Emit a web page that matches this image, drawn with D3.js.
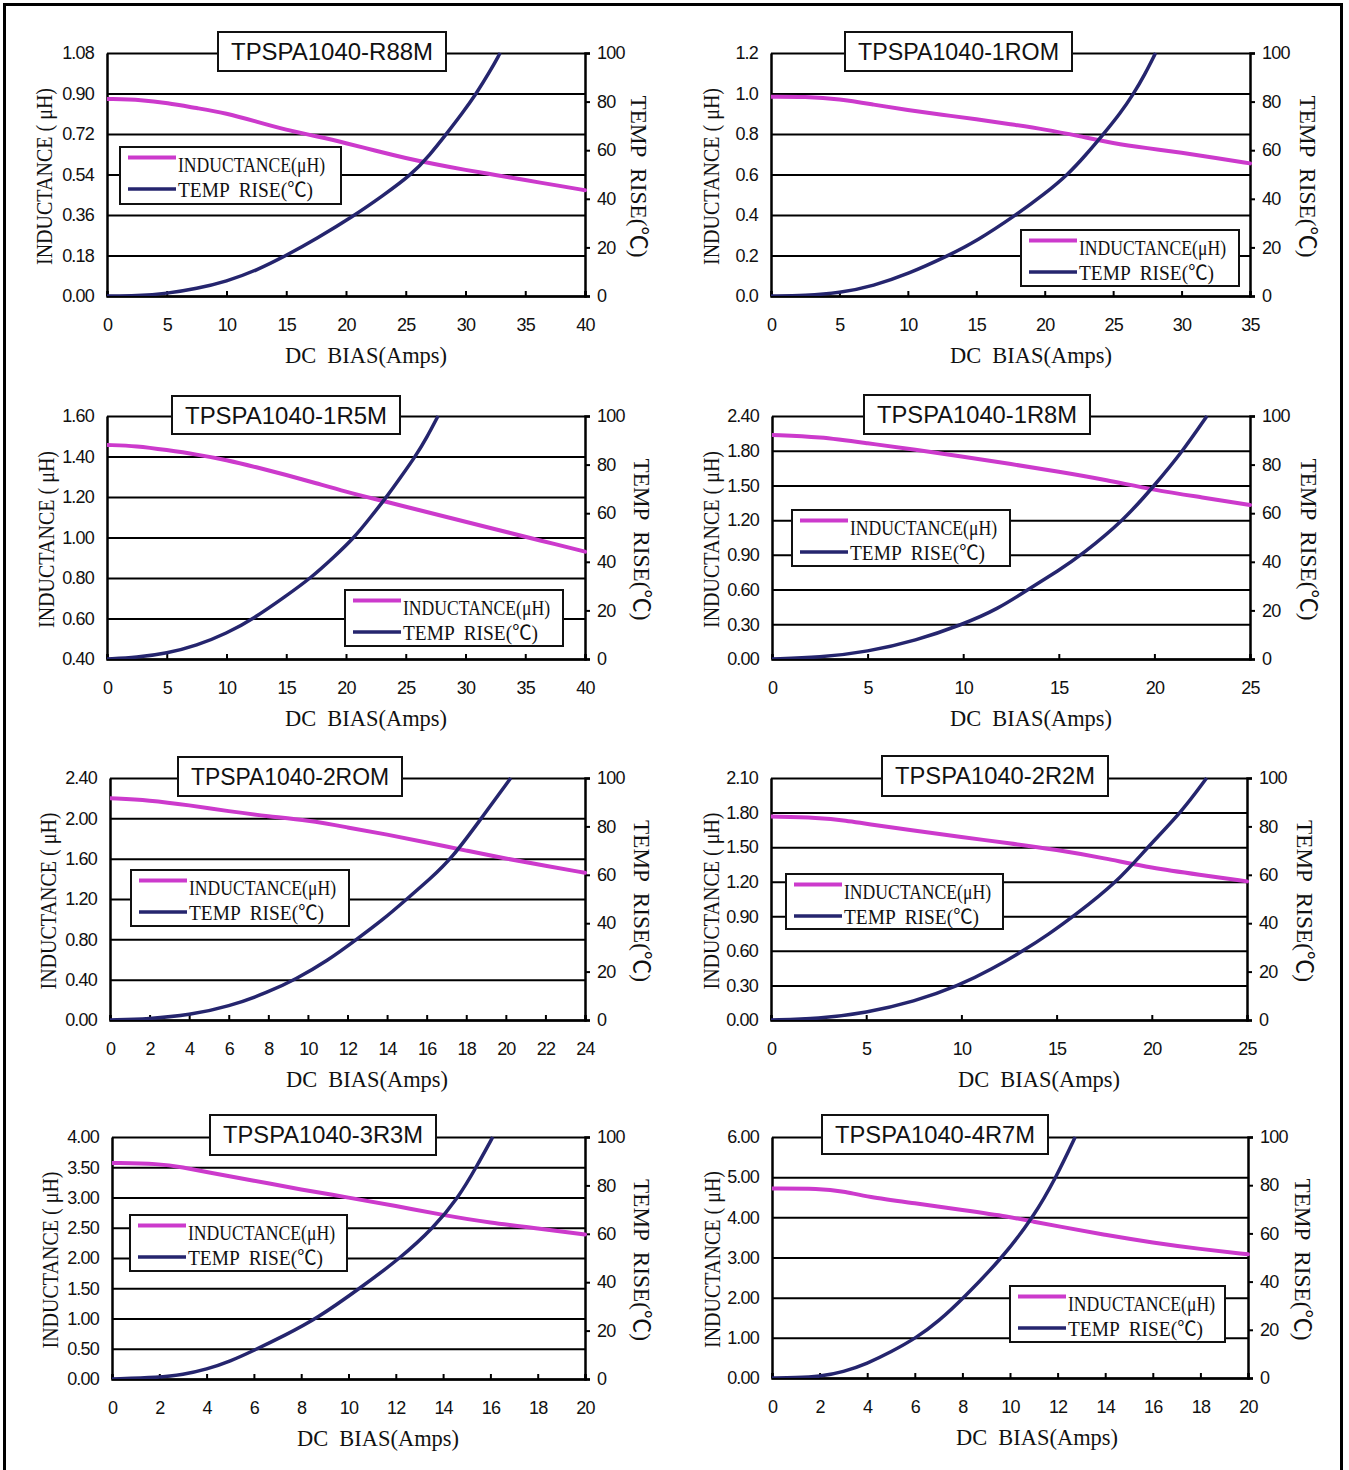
<!DOCTYPE html>
<html><head><meta charset="utf-8">
<script src="https://cdn.jsdelivr.net/npm/d3@7"></script>
<style>body{margin:0;background:#fff;} svg{display:block;}</style>
</head><body><svg id="c" width="1349" height="1470"></svg>
<script>
// ---------- DATA ----------
const models = ["TPSPA1040-R88M","TPSPA1040-1ROM","TPSPA1040-1R5M","TPSPA1040-1R8M",
                "TPSPA1040-2ROM","TPSPA1040-2R2M","TPSPA1040-3R3M","TPSPA1040-4R7M"];
const xMax = [40,35,40,25,24,25,20,20];
const xStep = [5,5,5,5,2,5,2,2];
const yDomains = [[0,1.08],[0,1.2],[0.4,1.6],[0,2.1],[0,2.4],[0,2.1],[0,4],[0,6]];
const yTicks = [
  [0,0.18,0.36,0.54,0.72,0.90,1.08],
  [0,0.2,0.4,0.6,0.8,1.0,1.2],
  [0.4,0.6,0.8,1.0,1.2,1.4,1.6],
  [0,0.3,0.6,0.9,1.2,1.5,1.8,2.1],
  [0,0.4,0.8,1.2,1.6,2.0,2.4],
  [0,0.3,0.6,0.9,1.2,1.5,1.8,2.1],
  [0,0.5,1,1.5,2,2.5,3,3.5,4],
  [0,1,2,3,4,5,6]
];
const yTickLabels = [
  ["0.00","0.18","0.36","0.54","0.72","0.90","1.08"],
  ["0.0","0.2","0.4","0.6","0.8","1.0","1.2"],
  ["0.40","0.60","0.80","1.00","1.20","1.40","1.60"],
  ["0.00","0.30","0.60","0.90","1.20","1.50","1.80","2.40"],
  ["0.00","0.40","0.80","1.20","1.60","2.00","2.40"],
  ["0.00","0.30","0.60","0.90","1.20","1.50","1.80","2.10"],
  ["0.00","0.50","1.00","1.50","2.00","2.50","3.00","3.50","4.00"],
  ["0.00","1.00","2.00","3.00","4.00","5.00","6.00"]
];
const tempTicks = [0,20,40,60,80,100];

const indR88M = [[0,0.876],[3,0.872],[5,0.858],[7.5,0.835],[10,0.813],[12.5,0.775],[15,0.738],[17.5,0.71],[20,0.68],[22.5,0.645],[25,0.613],[27.5,0.585],[30,0.56],[32.5,0.538],[35,0.515],[37.5,0.493],[40,0.47]];
const tempR88M = [[0,0],[2.5,0.1],[5,1],[7.5,3],[10,6],[12.5,10.5],[15,16.7],[17.5,23.5],[20.75,33.3],[23,41],[25.5,50],[27,58],[28.4,66.7],[29.7,75],[30.9,83.3],[32,92],[32.9,100]];
const ind1R0M = [[0,0.984],[2.5,0.984],[5,0.973],[7.5,0.945],[10,0.918],[12.5,0.895],[15,0.873],[17.5,0.848],[20,0.823],[22.5,0.79],[25,0.754],[27.5,0.73],[30,0.708],[32.5,0.682],[35,0.655]];
const temp1R0M = [[0,0],[2.5,0.2],[5,1.2],[7.5,4.2],[10,9],[13,16.7],[15,22.5],[17.9,33.3],[20,42],[21.7,50],[23,58],[24.3,66.7],[25.5,75],[26.5,83.3],[27.3,91],[28.1,100]];
const ind1R5M = [[0,1.457],[2.5,1.452],[5,1.432],[7.5,1.41],[10,1.383],[12.5,1.347],[15,1.309],[17.5,1.268],[20,1.226],[22.5,1.189],[25,1.152],[27.5,1.115],[30,1.078],[32.5,1.041],[35,1.004],[37.5,0.967],[40,0.93]];
const temp1R5M = [[0,0],[2.5,0.6],[5,2.3],[7.5,5.5],[10,10.5],[12.3,16.7],[15,26],[17.05,33.3],[19,42],[20.7,50],[22,58],[23.4,66.7],[24.6,75],[25.8,83.3],[26.8,91.5],[27.7,100]];
const ind1R8M = [[0,1.936],[2.5,1.92],[5,1.864],[7.5,1.81],[10,1.748],[12.5,1.685],[15,1.619],[17.5,1.547],[20,1.46],[22.5,1.397],[25,1.331]];
const temp1R8M = [[0,0],[2.5,0.6],[5,3],[7.5,7.5],[10,14.3],[11.8,20.5],[13.4,28.6],[15,36.5],[16.2,42.9],[18.4,57.1],[20,71.4],[21.5,85.7],[22.75,100]];
const ind2R0M = [[0,2.2],[2,2.18],[4,2.13],[6,2.07],[8,2.02],[10,1.98],[12,1.91],[14,1.84],[16,1.76],[18,1.68],[20,1.6],[22,1.53],[24,1.46]];
const temp2R0M = [[0,0],[2,0.5],[4,2],[6,5.5],[8,11.5],[9.36,16.7],[11,24.5],[12.46,33.3],[13.8,41.5],[15,50],[16.2,58.5],[17.26,66.7],[18.76,83.3],[20.25,100]];
const ind2R2M = [[0,1.765],[2.5,1.757],[4,1.73],[5,1.702],[7.5,1.644],[10,1.587],[12.5,1.535],[15,1.477],[17.5,1.405],[20,1.319],[22.5,1.261],[25,1.203]];
const temp2R2M = [[0,0],[2.5,0.5],[5,3],[7.5,7.5],[9.9,14.3],[11.6,21],[13.25,28.6],[14.6,35.5],[15.9,42.9],[18.2,57.1],[19.77,71.4],[21.54,85.7],[22.88,100]];
const ind3R3M = [[0,3.57],[2,3.56],[3,3.5],[4,3.42],[6,3.28],[8,3.13],[10,3.0],[12,2.86],[14,2.71],[16,2.58],[18,2.49],[20,2.39]];
const temp3R3M = [[0,0],[2,0.6],[3,1.8],[4,4],[5,7.3],[6,11.8],[7.3,18],[8.67,25],[10.48,37.5],[12.2,50],[13.6,62.5],[14.65,75],[15.4,87.5],[16.1,100]];
const ind4R7M = [[0,4.72],[2,4.72],[3,4.65],[4,4.51],[6,4.35],[8,4.18],[10,4.01],[11,3.89],[12,3.78],[14,3.56],[16,3.37],[18,3.21],[20,3.08]];
const temp4R7M = [[0,0],[1,0.1],[2,0.6],[3,2.5],[4,6],[5,10.8],[6.07,16.7],[7,23.5],[8.06,33.3],[9.69,50],[10.98,66.7],[11.94,83.3],[12.74,100]];

const indSeries = [indR88M, ind1R0M, ind1R5M, ind1R8M, ind2R0M, ind2R2M, ind3R3M, ind4R7M];
const tempSeries = [tempR88M, temp1R0M, temp1R5M, temp1R8M, temp2R0M, temp2R2M, temp3R3M, temp4R7M];

const legendLabels = ["INDUCTANCE(\u03bcH)", "TEMP  RISE(\u2103)"];
const yTitle = "INDUCTANCE ( \u03bcH)";
const y2Title = "TEMP  RISE(\u2103)";
const xTitle = "DC  BIAS(Amps)";

// ---------- LAYOUT ----------
const layout = [
  {L:107,R:585,T:53,B:296,  box:[218,32,228,39],  leg:[120,147,221,57],  lt:44, rt:639, xt:366},
  {L:771,R:1250,T:53,B:296, box:[845,32,227,39],  leg:[1021,230,218,56], lt:711,rt:1308,xt:1031},
  {L:107,R:585,T:416,B:659, box:[172,396,228,38], leg:[345,590,218,56],  lt:46, rt:642, xt:366},
  {L:772,R:1250,T:416,B:659,box:[864,395,226,39], leg:[792,510,218,56],  lt:711,rt:1309,xt:1031},
  {L:110,R:585,T:778,B:1020,box:[178,757,224,39], leg:[131,870,218,56],  lt:48, rt:642, xt:367},
  {L:771,R:1247,T:778,B:1020,box:[882,756,226,40],leg:[786,874,217,55],  lt:711,rt:1305,xt:1039},
  {L:112,R:585,T:1137,B:1379,box:[210,1115,226,40],leg:[130,1215,217,56],lt:50, rt:642, xt:378},
  {L:772,R:1248,T:1137,B:1378,box:[822,1115,226,39],leg:[1010,1286,215,56],lt:712,rt:1303,xt:1037}
];

const MAG = "#CC3ACC", NAVY = "#25256E";
const SANS = "'Liberation Sans', Arial, sans-serif";
const SERIF = "'Liberation Serif', 'Noto Sans CJK SC', serif";

const svg = d3.select("#c");
svg.append("rect").attr("width",1349).attr("height",1470).attr("fill","#fff");
svg.append("path").attr("d","M4.5,1470V4.5H1341.5V1470").attr("fill","none")
   .attr("stroke","#000").attr("stroke-width",3);

models.forEach((name,i)=>{
  const lay = layout[i];
  const g = svg.append("g");
  const x = d3.scaleLinear().domain([0,xMax[i]]).range([lay.L,lay.R]);
  const y = d3.scaleLinear().domain(yDomains[i]).range([lay.B,lay.T]);
  const yT = d3.scaleLinear().domain([0,100]).range([lay.B,lay.T]);

  // grid lines
  g.append("g").attr("transform",`translate(${lay.L},0)`)
    .call(d3.axisLeft(y).tickValues(yTicks[i]).tickSize(-(lay.R-lay.L)).tickFormat(""))
    .call(a=>a.select(".domain").remove())
    .selectAll("line").attr("stroke","#000").attr("stroke-width",2);

  // left axis
  const la = g.append("g").attr("transform",`translate(${lay.L},0)`)
    .call(d3.axisLeft(y).tickValues(yTicks[i]).tickSize(0).tickPadding(13)
      .tickFormat((d,k)=>yTickLabels[i][k]));
  la.select(".domain").attr("stroke","#000").attr("stroke-width",2.5);
  la.selectAll("text").attr("font-family",SANS).attr("font-size",18)
    .attr("letter-spacing",-0.8).attr("fill","#111");

  // right axis
  const ra = g.append("g").attr("transform",`translate(${lay.R},0)`)
    .call(d3.axisRight(yT).tickValues(tempTicks).tickSize(5).tickPadding(7));
  ra.select(".domain").attr("stroke","#000").attr("stroke-width",2.5);
  ra.selectAll("line").attr("stroke","#000").attr("stroke-width",2);
  ra.selectAll("text").attr("font-family",SANS).attr("font-size",18)
    .attr("letter-spacing",-0.8).attr("fill","#111");

  // bottom axis
  const ba = g.append("g").attr("transform",`translate(0,${lay.B})`)
    .call(d3.axisBottom(x).tickValues(d3.range(0,xMax[i]+0.001,xStep[i])).tickSize(-5).tickPadding(22));
  ba.select(".domain").attr("stroke","#000").attr("stroke-width",2.5);
  ba.selectAll("line").attr("stroke","#000").attr("stroke-width",2);
  ba.selectAll("text").attr("font-family",SANS).attr("font-size",18)
    .attr("letter-spacing",-0.8).attr("fill","#111");

  // curves
  const clipId = "clip"+i;
  svg.append("clipPath").attr("id",clipId).append("rect")
    .attr("x",lay.L).attr("y",lay.T-3).attr("width",lay.R-lay.L+2).attr("height",lay.B-lay.T+3);
  const cg = g.append("g").attr("clip-path",`url(#${clipId})`);
  cg.append("path").datum(indSeries[i])
    .attr("d",d3.line().x(d=>x(d[0])).y(d=>y(d[1])).curve(d3.curveBasis))
    .attr("fill","none").attr("stroke",MAG).attr("stroke-width",4).attr("stroke-linecap","round");
  cg.append("path").datum(tempSeries[i])
    .attr("d",d3.line().x(d=>x(d[0])).y(d=>yT(d[1])).curve(d3.curveBasis))
    .attr("fill","none").attr("stroke",NAVY).attr("stroke-width",3.5);

  // title box
  const [bx,by,bw,bh] = lay.box;
  g.append("rect").attr("x",bx).attr("y",by).attr("width",bw).attr("height",bh)
    .attr("fill","#fff").attr("stroke","#111").attr("stroke-width",2);
  g.append("text").attr("x",bx+bw/2).attr("y",by+28).attr("text-anchor","middle")
    .attr("font-family",SANS).attr("font-size",23).attr("fill","#111")
    .attr("textLength",bw-26).attr("lengthAdjust","spacingAndGlyphs").text(name);

  // legend
  const [lx,ly,lw,lh] = lay.leg;
  g.append("rect").attr("x",lx).attr("y",ly).attr("width",lw).attr("height",lh)
    .attr("fill","#fff").attr("stroke","#111").attr("stroke-width",2);
  const legItems = [{c:MAG,ly:10.5,ty:25,len:147,w:4},{c:NAVY,ly:42,ty:50,len:135,w:3.5}];
  legItems.forEach((it,k)=>{
    g.append("line").attr("x1",lx+8).attr("x2",lx+56).attr("y1",ly+it.ly).attr("y2",ly+it.ly)
      .attr("stroke",it.c).attr("stroke-width",it.w);
    g.append("text").attr("x",lx+58).attr("y",ly+it.ty)
      .attr("font-family",SERIF).attr("font-size",20).attr("fill","#111")
      .style("white-space","pre")
      .attr("textLength",it.len).attr("lengthAdjust","spacingAndGlyphs").text(legendLabels[k]);
  });

  // axis titles
  const cy = (lay.T+lay.B)/2 + 2;
  g.append("text").attr("transform",`translate(${lay.lt+8},${cy}) rotate(-90)`)
    .attr("text-anchor","middle").attr("font-family",SERIF).attr("font-size",23).attr("fill","#111")
    .style("white-space","pre").attr("textLength",177).attr("lengthAdjust","spacingAndGlyphs").text(yTitle);
  g.append("text").attr("transform",`translate(${lay.rt-8},${cy}) rotate(90)`)
    .attr("text-anchor","middle").attr("font-family",SERIF).attr("font-size",23).attr("fill","#111")
    .style("white-space","pre").attr("textLength",162).attr("lengthAdjust","spacingAndGlyphs").text(y2Title);
  g.append("text").attr("x",lay.xt).attr("y",lay.B+67)
    .attr("text-anchor","middle").attr("font-family",SERIF).attr("font-size",23).attr("fill","#111")
    .style("white-space","pre").attr("textLength",162).attr("lengthAdjust","spacingAndGlyphs").text(xTitle);
});
</script>
</body></html>
